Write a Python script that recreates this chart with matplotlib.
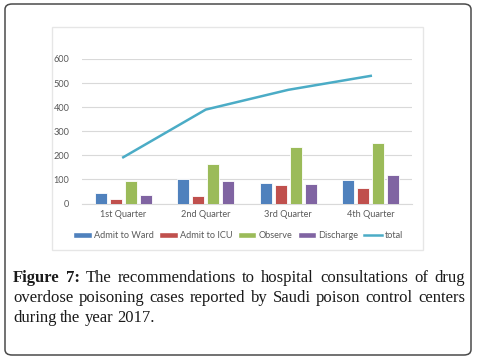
import matplotlib
matplotlib.use("Agg")
import matplotlib.pyplot as plt
from matplotlib.patches import Rectangle, FancyBboxPatch, Patch
from matplotlib.lines import Line2D
import numpy as np

# data
quarters = ["1st Quarter", "2nd Quarter", "3rd Quarter", "4th Quarter"]
admit_ward = [45, 100, 87, 97]
admit_icu = [20, 30, 75, 63]
observe = [92, 165, 233, 250]
discharge = [35, 95, 80, 120]
total = [192, 390, 472, 530]

series_names = ["Admit to Ward", "Admit to ICU", "Observe", "Discharge"]
series_vals = [admit_ward, admit_icu, observe, discharge]
colors = ["#4F81BD", "#C0504D", "#9BBB59", "#8064A2"]
line_color = "#4BACC6"
text_gray = "#595959"
grid_gray = "#D9D9D9"

caption_lines = [
    "Figure 7: The recommendations to hospital consultations of drug",
    "overdose poisoning cases reported by Saudi poison control centers",
    "during the year 2017.",
]

W, H = 478, 359
fig = plt.figure(figsize=(W / 100, H / 100), dpi=100)
plt.rcParams["font.family"] = ["Lato", "DejaVu Sans"]


def px(x, y):
    # pixel coords (top-left origin) -> figure fraction
    return x / W, 1 - y / H


# outer rounded frame
fig.patches.append(FancyBboxPatch((5 / W, 4 / H), 466 / W, 351 / H,
                                  boxstyle="round,pad=0,rounding_size=0.015",
                                  transform=fig.transFigure, fill=False,
                                  edgecolor="#4a4a4a", linewidth=1.1))
# chart box
fig.patches.append(Rectangle((52 / W, 1 - 250 / H), 371 / W, 223 / H,
                             transform=fig.transFigure, fill=False,
                             edgecolor="#E6E6E6", linewidth=1.0))

ax = fig.add_axes([82 / W, 1 - 203.5 / H, 330 / W, 144.5 / H])
x = np.arange(len(quarters))
bw = 0.148
step = 0.182
for i, (name, vals, c) in enumerate(zip(series_names, series_vals, colors)):
    ax.bar(x + (i - 1.5) * step, vals, width=bw, color=c,
           edgecolor="white", linewidth=0.6, label=name, zorder=3)
ax.plot(x, total, color=line_color, linewidth=1.8, label="total", zorder=4)

ax.set_xlim(-0.5, 3.5)
ax.set_ylim(0, 600)
ax.set_yticks(range(0, 601, 100))
ax.grid(axis="y", color=grid_gray, linewidth=0.8, zorder=0)
ax.set_axisbelow(True)
for s in ["top", "right", "left"]:
    ax.spines[s].set_visible(False)
ax.spines["bottom"].set_color(grid_gray)
ax.spines["bottom"].set_linewidth(0.8)
ax.set_xticks(x)
ax.set_xticklabels(quarters)
ax.tick_params(length=0, labelsize=6.6, labelcolor=text_gray)
ax.tick_params(axis="y", pad=9)
ax.tick_params(axis="x", pad=5)

handles = [Patch(facecolor=c, edgecolor="white", label=n)
           for n, c in zip(series_names, colors)]
handles.append(Line2D([], [], color=line_color, linewidth=1.8, label="total"))
fig.legend(handles=handles, loc="center", bbox_to_anchor=px(238, 236),
           ncol=5, frameon=False, fontsize=6.6, labelcolor=text_gray,
           handlelength=2.0, handleheight=0.55, handletextpad=0.25,
           columnspacing=0.6)

# caption, justified like the journal layout
fig.canvas.draw()
renderer = fig.canvas.get_renderer()
left_px, right_px = 13, 465
ys = [278, 298, 318]
fs = 12.0
for li, (line, y) in enumerate(zip(caption_lines, ys)):
    words = line.split(" ")
    texts = []
    for wi, w in enumerate(words):
        bold = li == 0 and wi < 2
        t = fig.text(0, 0, w, fontsize=fs, family="Liberation Serif",
                     fontweight="bold" if bold else "normal",
                     color="#1a1a1a", va="baseline", ha="left")
        texts.append(t)
    widths = [t.get_window_extent(renderer).width for t in texts]
    if li < len(caption_lines) - 1:
        gap = (right_px - left_px - sum(widths)) / (len(words) - 1)
    else:
        gap = fs * 0.32
    cur = left_px
    for t, wdt in zip(texts, widths):
        t.set_position(px(cur, y + 4))
        cur += wdt + gap

fig.savefig("out.png", dpi=100)
